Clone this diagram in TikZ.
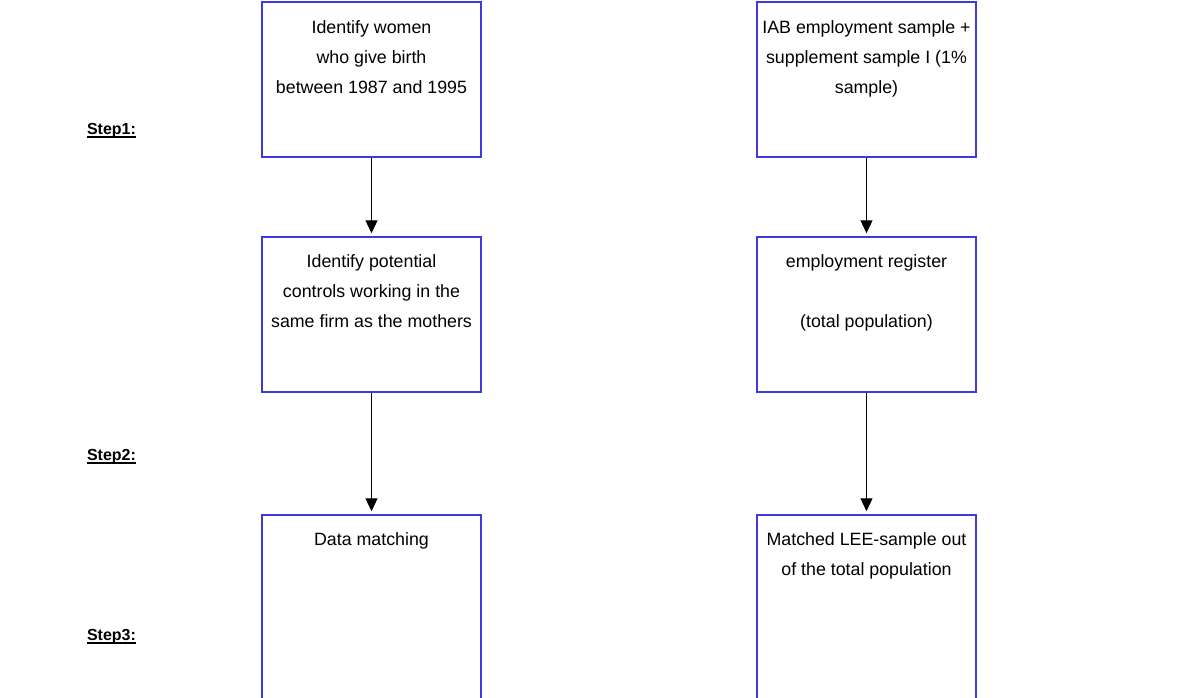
\documentclass[tikz,border=0pt]{standalone}
\usepackage{fontspec}
\setmainfont{Liberation Sans}
\usetikzlibrary{arrows.meta}
\definecolor{boxblue}{RGB}{60,60,220}
\begin{document}
\begin{tikzpicture}[x=1pt,y=-1pt,
  box/.style={draw=boxblue,line width=1.5pt,minimum width=219pt,inner sep=0pt},
  txt/.style={anchor=north,align=center,inner sep=0pt,font=\fontsize{17.8}{30}\selectfont},
  steplabel/.style={anchor=base,inner sep=0pt,font=\fontsize{16}{19}\selectfont\bfseries},
  arr/.style={line width=1.2pt,-{Triangle[length=13pt,width=12pt]},shorten >=3pt}]
\useasboundingbox (0,0) rectangle (1197,697);
\clip (0,0) rectangle (1197,697);
% row 1
\node[box,minimum height=155pt] (a1) at (371.5,79.5) {};
\node[box,minimum height=155pt] (b1) at (866.5,79.5) {};
% row 2
\node[box,minimum height=155pt] (a2) at (371.5,314.5) {};
\node[box,minimum height=155pt] (b2) at (866.5,314.5) {};
% row 3
\node[box,minimum height=200pt] (a3) at (371.5,615) {};
\node[box,minimum height=200pt] (b3) at (866.5,615) {};
% texts
\node[txt] (ta1) at ([yshift=-19pt]a1.north) {Identify women\\who give birth\\between 1987 and 1995};
\node[txt] (tb1) at ([yshift=-19pt]b1.north) {IAB employment sample +\\supplement sample I (1\%\\sample)};
\node[txt] (ta2) at ([yshift=-18pt]a2.north) {Identify potential\\controls working in the\\same firm as the mothers};
\node[txt] (tb2) at ([yshift=-18pt]b2.north) {employment register\\[30pt](total population)};
\node[txt] (ta3) at ([yshift=-18pt]a3.north) {Data matching};
\node[txt] (tb3) at ([yshift=-18pt]b3.north) {Matched LEE-sample out\\of the total population};
% arrows
\draw[arr] (a1.south) -- (a2.north);
\draw[arr] (b1.south) -- (b2.north);
\draw[arr] (a2.south) -- (a3.north);
\draw[arr] (b2.south) -- (b3.north);
% step labels
\node[steplabel] (s1) at (111.5,134) {Step1:};
\node[steplabel] (s2) at (111.5,460) {Step2:};
\node[steplabel] (s3) at (111.5,640) {Step3:};
\foreach \s in {s1,s2,s3}{
  \draw[line width=1.3pt] ([yshift=-3pt]\s.base west) -- ([yshift=-3pt]\s.base east);
}
\end{tikzpicture}
\end{document}
